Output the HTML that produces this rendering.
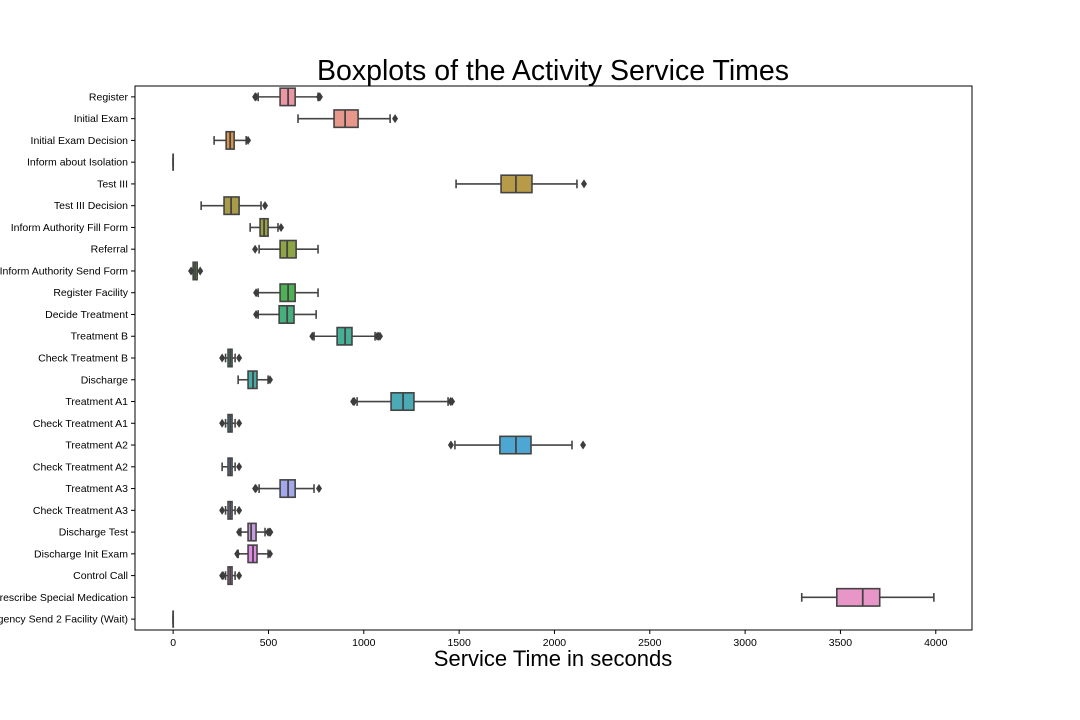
<!DOCTYPE html>
<html><head><meta charset="utf-8"><style>
body{margin:0;background:#fff;}
svg{display:block;font-family:"Liberation Sans","DejaVu Sans",sans-serif;}
</style></head><body>
<svg id="chart" width="1080" height="720">
<text x="553" y="80" text-anchor="middle" font-size="28.5" fill="#000">Boxplots of the Activity Service Times</text>
<text x="553" y="666" text-anchor="middle" font-size="22" fill="#000">Service Time in seconds</text>
<g id="plot"></g>
</svg>
<script>
const categories=["Register","Initial Exam","Initial Exam Decision","Inform about Isolation","Test III","Test III Decision","Inform Authority Fill Form","Referral","Inform Authority Send Form","Register Facility","Decide Treatment","Treatment B","Check Treatment B","Discharge","Treatment A1","Check Treatment A1","Treatment A2","Check Treatment A2","Treatment A3","Check Treatment A3","Discharge Test","Discharge Init Exam","Control Call","Prescribe Special Medication","Emergency Send 2 Facility (Wait)"];
const whiskerLow=[446,655,215,0,1484,147,404,451,105,446,446,739,275,341,965,275,1478,257,451,275,355,341,275,3297,0];
const q1Values=[561,844,278,0,1720,267,456,561,105,561,556,860,288,393,1143,288,1714,288,561,288,393,393,288,3481,0];
const medianValues=[603,902,299,0,1798,304,477,598,115,603,598,902,299,419,1206,299,1798,299,603,299,409,419,299,3617,0];
const q3Values=[640,970,320,0,1882,346,498,645,126,640,634,938,309,440,1263,309,1877,309,640,309,435,440,309,3706,0];
const whiskerHigh=[760,1138,383,0,2118,461,550,760,126,760,750,1059,325,498,1442,325,2092,325,739,325,482,498,325,3990,0];
const outliers=[[430,434,765,770],[1164],[393],[],[2155],[482],[566],[430],[94,142],[435],[435],[730,1070,1078,1085],[257,346],[508],[944,950,1455,1463],[257,346],[1457,2150],[346],[430,434,765],[257,346],[346,498,505,510],[336,508],[257,262,346],[],[]];
const colors=["#ea96a3","#e8988a","#d8954e","#c99a44","#b89b49","#a89c48","#9aa241","#8ea545","#7aa53f","#4fb155","#45b07e","#45b095","#47aa9a","#46ada6","#4aabb6","#49a9c0","#4ea7d3","#75a0e0","#a3a8ec","#a99be6","#c79be3","#e087e8","#e28fd6","#e896c8","#eb90b5"];
const xTicks=[0,500,1000,1500,2000,2500,3000,3500,4000];
const L=135,R=972,T=86,B=630,xMin=-200,xMax=4190;
const ns="http://www.w3.org/2000/svg";
const g=document.getElementById('plot');
const X=v=>L+(v-xMin)/(xMax-xMin)*(R-L);
const band=(B-T)/categories.length;
const Y=i=>T+band*(i+0.5);
function mk(t,a,p){const e=document.createElementNS(ns,t);for(const k in a)e.setAttribute(k,a[k]);(p||g).appendChild(e);return e;}
const stroke="#444";
categories.forEach((c,i)=>{
  const y=Y(i),h=band*0.8;
  const grp=mk('g',{});
  
  
  mk('line',{x1:X(whiskerLow[i]),x2:X(q1Values[i]),y1:y,y2:y,stroke:stroke,'stroke-width':1.6},grp);
  mk('line',{x1:X(q3Values[i]),x2:X(whiskerHigh[i]),y1:y,y2:y,stroke:stroke,'stroke-width':1.6},grp);
  mk('line',{x1:X(whiskerLow[i]),x2:X(whiskerLow[i]),y1:y-h/4,y2:y+h/4,stroke:stroke,'stroke-width':1.6},grp);
  mk('line',{x1:X(whiskerHigh[i]),x2:X(whiskerHigh[i]),y1:y-h/4,y2:y+h/4,stroke:stroke,'stroke-width':1.6},grp);
  mk('rect',{x:X(q1Values[i]),y:y-h/2,width:Math.max(0,X(q3Values[i])-X(q1Values[i])),height:h,fill:colors[i],stroke:stroke,'stroke-width':1.6},grp);
  mk('line',{x1:X(medianValues[i]),x2:X(medianValues[i]),y1:y-h/2,y2:y+h/2,stroke:stroke,'stroke-width':1.8},grp);
  outliers[i].forEach(v=>{
    const x=X(v);
    const d=mk('path',{d:`M${x-3},${y}L${x},${y-4.5}L${x+3},${y}L${x},${y+4.5}Z`,fill:'#3d3d3d'},grp);
    
    
  });
  mk('line',{x1:L-4,x2:L,y1:y,y2:y,stroke:'#000','stroke-width':1});
  const t=mk('text',{x:L-7,y:y+3.5,'text-anchor':'end','font-size':10.5,fill:'#000'});
  t.textContent=c;
  
  
});
xTicks.forEach(v=>{
  const x=X(v);
  mk('line',{x1:x,x2:x,y1:B,y2:B+4,stroke:'#000','stroke-width':1});
  const t=mk('text',{x:x,y:B+16,'text-anchor':'middle','font-size':10.5,fill:'#000'});
  t.textContent=v;
  
  
});
const frame=mk('rect',{x:L,y:T,width:R-L,height:B-T,fill:'none',stroke:'#000','stroke-width':1});


</script>
</body></html>
